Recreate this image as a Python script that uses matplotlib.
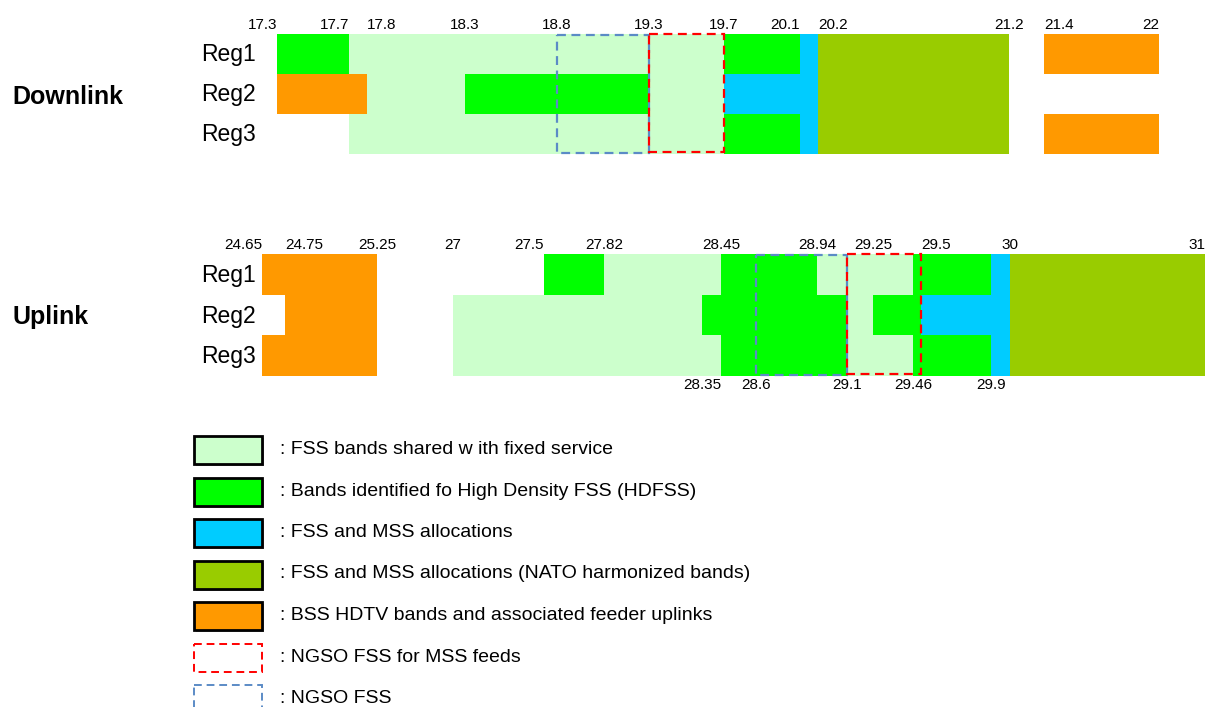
import numpy as np
import matplotlib
matplotlib.use("Agg")
import matplotlib.pyplot as plt
from matplotlib.patches import Rectangle

plt.rcParams['font.family'] = ['Liberation Sans', 'DejaVu Sans']

# --- Colours per service ---
COLORS = {
    "fss_fs": "#CCFFCC",
    "hdfss": "#00FF00",
    "fss_mss": "#00CCFF",
    "nato": "#99CC00",
    "bss": "#FF9900",
}
RED_DASH = "#FF0000"
BLUE_DASH = "#5B8BC6"

REGIONS = ["Reg1", "Reg2", "Reg3"]

# --- Downlink (GHz) ---
dl_freqs = [17.3, 17.7, 17.8, 18.3, 18.8, 19.3, 19.7, 20.1, 20.2, 21.2, 21.4, 22]
dl_pos = [277, 349, 367, 465, 557, 649, 724, 800, 818, 1009, 1044, 1159]  # schematic scale
dl_bands = {
    "Reg1": [(17.3, 17.7, "hdfss"), (17.7, 19.7, "fss_fs"), (19.7, 20.1, "hdfss"),
             (20.1, 20.2, "fss_mss"), (20.2, 21.2, "nato"), (21.4, 22, "bss")],
    "Reg2": [(17.3, 17.8, "bss"), (17.8, 18.3, "fss_fs"), (18.3, 19.3, "hdfss"),
             (19.3, 19.7, "fss_fs"), (19.7, 20.2, "fss_mss"), (20.2, 21.2, "nato")],
    "Reg3": [(17.7, 19.7, "fss_fs"), (19.7, 20.1, "hdfss"), (20.1, 20.2, "fss_mss"),
             (20.2, 21.2, "nato"), (21.4, 22, "bss")],
}
dl_ngso = (18.8, 19.3)
dl_ngso_mss = (19.3, 19.7)
dl_top = [17.3, 17.7, 17.8, 18.3, 18.8, 19.3, 19.7, 20.1, 20.2, 21.2, 21.4, 22]
dl_top_ha = ["right", "right", "left", "center", "center", "center", "center",
             "right", "left", "center", "left", "right"]
dl_bottom = []

# --- Uplink (GHz) ---
ul_freqs = [24.65, 24.75, 25.25, 27, 27.5, 27.82, 28.35, 28.45, 28.6, 28.94,
            29.1, 29.25, 29.46, 29.5, 29.9, 30, 31]
ul_pos = [262, 285, 377, 453, 544, 604, 702, 721, 756, 817,
          847, 873, 913, 921, 991, 1010, 1205]
ul_bands = {
    "Reg1": [(24.65, 25.25, "bss"), (27.5, 27.82, "hdfss"), (27.82, 28.45, "fss_fs"),
             (28.45, 28.94, "hdfss"), (28.94, 29.46, "fss_fs"), (29.46, 29.9, "hdfss"),
             (29.9, 30, "fss_mss"), (30, 31, "nato")],
    "Reg2": [(24.75, 25.25, "bss"), (27, 28.35, "fss_fs"), (28.35, 29.1, "hdfss"),
             (29.1, 29.25, "fss_fs"), (29.25, 29.5, "hdfss"), (29.5, 30, "fss_mss"),
             (30, 31, "nato")],
    "Reg3": [(24.65, 25.25, "bss"), (27, 28.45, "fss_fs"), (28.45, 29.1, "hdfss"),
             (29.1, 29.46, "fss_fs"), (29.46, 29.9, "hdfss"), (29.9, 30, "fss_mss"),
             (30, 31, "nato")],
}
ul_ngso = (28.6, 29.1)
ul_ngso_mss = (29.1, 29.5)
ul_top = [24.65, 24.75, 25.25, 27, 27.5, 27.82, 28.45, 28.94, 29.25, 29.5, 30, 31]
ul_top_ha = ["right", "left", "center", "center", "right", "center", "center",
             "center", "center", "left", "center", "right"]
ul_bottom = [28.35, 28.6, 29.1, 29.46, 29.9]

legend_keys = ["fss_fs", "hdfss", "fss_mss", "nato", "bss"]
legend_labels = [
    ": FSS bands shared w ith fixed service",
    ": Bands identified fo High Density FSS (HDFSS)",
    ": FSS and MSS allocations",
    ": FSS and MSS allocations (NATO harmonized bands)",
    ": BSS HDTV bands and associated feeder uplinks",
    ": NGSO FSS for MSS feeds",
    ": NGSO FSS",
]

W, H = 1209, 707
fig = plt.figure(figsize=(W / 100, H / 100), dpi=100)


def fmt(v):
    return f"{v:g}"


def band_panel(px_left, px_right, px_top, px_bottom, freqs, pos, bands,
               ngso, ngso_mss, top, top_ha, bottom, title, title_y):
    ax = fig.add_axes([px_left / W, 1 - px_bottom / H,
                       (px_right - px_left) / W, (px_bottom - px_top) / H])
    fwd = lambda x: np.interp(x, freqs, pos)
    inv = lambda x: np.interp(x, pos, freqs)
    ax.set_xscale("function", functions=(fwd, inv))
    ax.set_xlim(freqs[0], freqs[-1])
    ax.set_ylim(3, 0)
    ax.axis("off")

    row_h = (px_bottom - px_top) / 3
    for i, reg in enumerate(REGIONS):
        for f0, f1, key in bands[reg]:
            ax.add_patch(Rectangle((f0, i), f1 - f0, 1, facecolor=COLORS[key],
                                   edgecolor="none", linewidth=0))
        fig.text(256 / W, 1 - (px_top + (i + 0.5) * row_h + 1) / H, reg,
                 ha="right", va="center", fontsize=16.5)

    ax.add_patch(Rectangle((ngso[0], 0.02), ngso[1] - ngso[0], 2.96, fill=False,
                           edgecolor=BLUE_DASH, linestyle=(0, (4, 2.5)), linewidth=1.6,
                           clip_on=False, zorder=3))
    ax.add_patch(Rectangle((ngso_mss[0], 0.0), ngso_mss[1] - ngso_mss[0], 2.96, fill=False,
                           edgecolor=RED_DASH, linestyle=(0, (4, 2.5)), linewidth=1.6,
                           clip_on=False, zorder=4))

    for f, ha in zip(top, top_ha):
        ax.text(f, -0.22, fmt(f), ha=ha, va="center", fontsize=11)
    for f in bottom:
        ax.text(f, 3.23, fmt(f), ha="center", va="center", fontsize=11)

    fig.text(12 / W, 1 - title_y / H, title, ha="left", va="center",
             fontsize=18, fontweight="bold")
    return ax


band_panel(277, 1159, 34, 154, dl_freqs, dl_pos, dl_bands, dl_ngso, dl_ngso_mss,
           dl_top, dl_top_ha, dl_bottom, "Downlink", 97)
band_panel(262, 1205, 254, 376, ul_freqs, ul_pos, ul_bands, ul_ngso, ul_ngso_mss,
           ul_top, ul_top_ha, ul_bottom, "Uplink", 317)

# --- Legend (drawn in pixel space) ---
lg = fig.add_axes([0, 0, 1, 1])
lg.set_xlim(0, W)
lg.set_ylim(H, 0)
lg.axis("off")
for k, label in enumerate(legend_labels):
    y0 = 436 + k * 41.5
    if k < len(legend_keys):
        lg.add_patch(Rectangle((196, y0 + 2), 68, 28, facecolor="#A0A0A0",
                               edgecolor="none"))
        lg.add_patch(Rectangle((194, y0), 68, 28, facecolor=COLORS[legend_keys[k]],
                               edgecolor="black", linewidth=2))
    else:
        col = RED_DASH if k == 5 else BLUE_DASH
        lg.add_patch(Rectangle((194, y0), 68, 28, fill=False, edgecolor=col,
                               linestyle=(0, (4, 2.5)), linewidth=1.4))
    lg.text(280, y0 + 13.5, label, ha="left", va="center", fontsize=14)

fig.savefig("out.png", dpi=100)
